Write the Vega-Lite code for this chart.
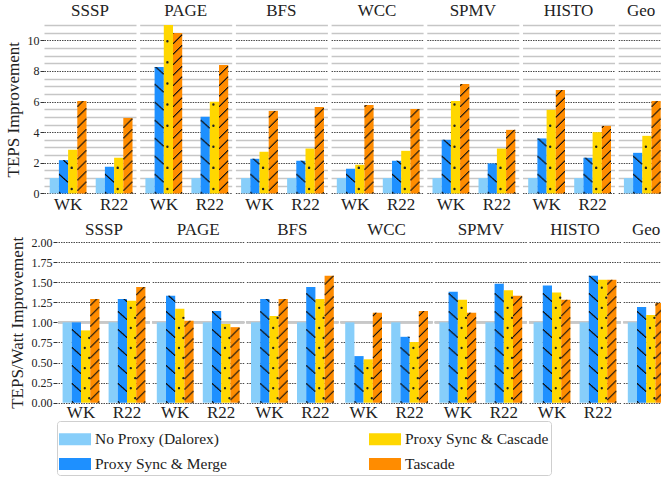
{
  "$schema": "https://vega.github.io/schema/vega-lite/v6.json",
  "background": "white",
  "padding": {"left": 4, "top": 2, "right": 0, "bottom": 0},
  "datasets": {
    "teps": [
      {"bench": "SSSP", "graph": "WK", "series": "No Proxy (Dalorex)", "value": 1.0},
      {"bench": "SSSP", "graph": "WK", "series": "Proxy Sync & Merge", "value": 2.17},
      {"bench": "SSSP", "graph": "WK", "series": "Proxy Sync & Cascade", "value": 2.85},
      {"bench": "SSSP", "graph": "WK", "series": "Tascade", "value": 6.04},
      {"bench": "SSSP", "graph": "R22", "series": "No Proxy (Dalorex)", "value": 1.0},
      {"bench": "SSSP", "graph": "R22", "series": "Proxy Sync & Merge", "value": 1.74},
      {"bench": "SSSP", "graph": "R22", "series": "Proxy Sync & Cascade", "value": 2.33},
      {"bench": "SSSP", "graph": "R22", "series": "Tascade", "value": 4.93},
      {"bench": "PAGE", "graph": "WK", "series": "No Proxy (Dalorex)", "value": 1.0},
      {"bench": "PAGE", "graph": "WK", "series": "Proxy Sync & Merge", "value": 8.26},
      {"bench": "PAGE", "graph": "WK", "series": "Proxy Sync & Cascade", "value": 11.0},
      {"bench": "PAGE", "graph": "WK", "series": "Tascade", "value": 10.48},
      {"bench": "PAGE", "graph": "R22", "series": "No Proxy (Dalorex)", "value": 1.0},
      {"bench": "PAGE", "graph": "R22", "series": "Proxy Sync & Merge", "value": 5.0},
      {"bench": "PAGE", "graph": "R22", "series": "Proxy Sync & Cascade", "value": 5.98},
      {"bench": "PAGE", "graph": "R22", "series": "Tascade", "value": 8.39},
      {"bench": "BFS", "graph": "WK", "series": "No Proxy (Dalorex)", "value": 1.0},
      {"bench": "BFS", "graph": "WK", "series": "Proxy Sync & Merge", "value": 2.26},
      {"bench": "BFS", "graph": "WK", "series": "Proxy Sync & Cascade", "value": 2.72},
      {"bench": "BFS", "graph": "WK", "series": "Tascade", "value": 5.39},
      {"bench": "BFS", "graph": "R22", "series": "No Proxy (Dalorex)", "value": 1.0},
      {"bench": "BFS", "graph": "R22", "series": "Proxy Sync & Merge", "value": 2.13},
      {"bench": "BFS", "graph": "R22", "series": "Proxy Sync & Cascade", "value": 2.93},
      {"bench": "BFS", "graph": "R22", "series": "Tascade", "value": 5.65},
      {"bench": "WCC", "graph": "WK", "series": "No Proxy (Dalorex)", "value": 1.0},
      {"bench": "WCC", "graph": "WK", "series": "Proxy Sync & Merge", "value": 1.61},
      {"bench": "WCC", "graph": "WK", "series": "Proxy Sync & Cascade", "value": 1.87},
      {"bench": "WCC", "graph": "WK", "series": "Tascade", "value": 5.78},
      {"bench": "WCC", "graph": "R22", "series": "No Proxy (Dalorex)", "value": 1.0},
      {"bench": "WCC", "graph": "R22", "series": "Proxy Sync & Merge", "value": 2.13},
      {"bench": "WCC", "graph": "R22", "series": "Proxy Sync & Cascade", "value": 2.78},
      {"bench": "WCC", "graph": "R22", "series": "Tascade", "value": 5.52},
      {"bench": "SPMV", "graph": "WK", "series": "No Proxy (Dalorex)", "value": 1.0},
      {"bench": "SPMV", "graph": "WK", "series": "Proxy Sync & Merge", "value": 3.5},
      {"bench": "SPMV", "graph": "WK", "series": "Proxy Sync & Cascade", "value": 6.04},
      {"bench": "SPMV", "graph": "WK", "series": "Tascade", "value": 7.15},
      {"bench": "SPMV", "graph": "R22", "series": "No Proxy (Dalorex)", "value": 1.0},
      {"bench": "SPMV", "graph": "R22", "series": "Proxy Sync & Merge", "value": 1.96},
      {"bench": "SPMV", "graph": "R22", "series": "Proxy Sync & Cascade", "value": 2.93},
      {"bench": "SPMV", "graph": "R22", "series": "Tascade", "value": 4.15},
      {"bench": "HISTO", "graph": "WK", "series": "No Proxy (Dalorex)", "value": 1.0},
      {"bench": "HISTO", "graph": "WK", "series": "Proxy Sync & Merge", "value": 3.59},
      {"bench": "HISTO", "graph": "WK", "series": "Proxy Sync & Cascade", "value": 5.46},
      {"bench": "HISTO", "graph": "WK", "series": "Tascade", "value": 6.76},
      {"bench": "HISTO", "graph": "R22", "series": "No Proxy (Dalorex)", "value": 1.0},
      {"bench": "HISTO", "graph": "R22", "series": "Proxy Sync & Merge", "value": 2.33},
      {"bench": "HISTO", "graph": "R22", "series": "Proxy Sync & Cascade", "value": 4.0},
      {"bench": "HISTO", "graph": "R22", "series": "Tascade", "value": 4.41},
      {"bench": "Geo", "graph": "", "series": "No Proxy (Dalorex)", "value": 1.0},
      {"bench": "Geo", "graph": "", "series": "Proxy Sync & Merge", "value": 2.65},
      {"bench": "Geo", "graph": "", "series": "Proxy Sync & Cascade", "value": 3.76},
      {"bench": "Geo", "graph": "", "series": "Tascade", "value": 6.04}
    ],
    "tepsw": [
      {"bench": "SSSP", "graph": "WK", "series": "No Proxy (Dalorex)", "value": 1.0},
      {"bench": "SSSP", "graph": "WK", "series": "Proxy Sync & Merge", "value": 1.0},
      {"bench": "SSSP", "graph": "WK", "series": "Proxy Sync & Cascade", "value": 0.9},
      {"bench": "SSSP", "graph": "WK", "series": "Tascade", "value": 1.29},
      {"bench": "SSSP", "graph": "R22", "series": "No Proxy (Dalorex)", "value": 1.0},
      {"bench": "SSSP", "graph": "R22", "series": "Proxy Sync & Merge", "value": 1.29},
      {"bench": "SSSP", "graph": "R22", "series": "Proxy Sync & Cascade", "value": 1.27},
      {"bench": "SSSP", "graph": "R22", "series": "Tascade", "value": 1.44},
      {"bench": "PAGE", "graph": "WK", "series": "No Proxy (Dalorex)", "value": 1.0},
      {"bench": "PAGE", "graph": "WK", "series": "Proxy Sync & Merge", "value": 1.33},
      {"bench": "PAGE", "graph": "WK", "series": "Proxy Sync & Cascade", "value": 1.17},
      {"bench": "PAGE", "graph": "WK", "series": "Tascade", "value": 1.02},
      {"bench": "PAGE", "graph": "R22", "series": "No Proxy (Dalorex)", "value": 1.0},
      {"bench": "PAGE", "graph": "R22", "series": "Proxy Sync & Merge", "value": 1.14},
      {"bench": "PAGE", "graph": "R22", "series": "Proxy Sync & Cascade", "value": 0.98},
      {"bench": "PAGE", "graph": "R22", "series": "Tascade", "value": 0.94},
      {"bench": "BFS", "graph": "WK", "series": "No Proxy (Dalorex)", "value": 1.0},
      {"bench": "BFS", "graph": "WK", "series": "Proxy Sync & Merge", "value": 1.29},
      {"bench": "BFS", "graph": "WK", "series": "Proxy Sync & Cascade", "value": 1.08},
      {"bench": "BFS", "graph": "WK", "series": "Tascade", "value": 1.29},
      {"bench": "BFS", "graph": "R22", "series": "No Proxy (Dalorex)", "value": 1.0},
      {"bench": "BFS", "graph": "R22", "series": "Proxy Sync & Merge", "value": 1.44},
      {"bench": "BFS", "graph": "R22", "series": "Proxy Sync & Cascade", "value": 1.29},
      {"bench": "BFS", "graph": "R22", "series": "Tascade", "value": 1.58},
      {"bench": "WCC", "graph": "WK", "series": "No Proxy (Dalorex)", "value": 1.0},
      {"bench": "WCC", "graph": "WK", "series": "Proxy Sync & Merge", "value": 0.58},
      {"bench": "WCC", "graph": "WK", "series": "Proxy Sync & Cascade", "value": 0.54},
      {"bench": "WCC", "graph": "WK", "series": "Tascade", "value": 1.12},
      {"bench": "WCC", "graph": "R22", "series": "No Proxy (Dalorex)", "value": 1.0},
      {"bench": "WCC", "graph": "R22", "series": "Proxy Sync & Merge", "value": 0.82},
      {"bench": "WCC", "graph": "R22", "series": "Proxy Sync & Cascade", "value": 0.755},
      {"bench": "WCC", "graph": "R22", "series": "Tascade", "value": 1.14},
      {"bench": "SPMV", "graph": "WK", "series": "No Proxy (Dalorex)", "value": 1.0},
      {"bench": "SPMV", "graph": "WK", "series": "Proxy Sync & Merge", "value": 1.38},
      {"bench": "SPMV", "graph": "WK", "series": "Proxy Sync & Cascade", "value": 1.28},
      {"bench": "SPMV", "graph": "WK", "series": "Tascade", "value": 1.12},
      {"bench": "SPMV", "graph": "R22", "series": "No Proxy (Dalorex)", "value": 1.0},
      {"bench": "SPMV", "graph": "R22", "series": "Proxy Sync & Merge", "value": 1.48},
      {"bench": "SPMV", "graph": "R22", "series": "Proxy Sync & Cascade", "value": 1.4},
      {"bench": "SPMV", "graph": "R22", "series": "Tascade", "value": 1.33},
      {"bench": "HISTO", "graph": "WK", "series": "No Proxy (Dalorex)", "value": 1.0},
      {"bench": "HISTO", "graph": "WK", "series": "Proxy Sync & Merge", "value": 1.46},
      {"bench": "HISTO", "graph": "WK", "series": "Proxy Sync & Cascade", "value": 1.37},
      {"bench": "HISTO", "graph": "WK", "series": "Tascade", "value": 1.28},
      {"bench": "HISTO", "graph": "R22", "series": "No Proxy (Dalorex)", "value": 1.0},
      {"bench": "HISTO", "graph": "R22", "series": "Proxy Sync & Merge", "value": 1.58},
      {"bench": "HISTO", "graph": "R22", "series": "Proxy Sync & Cascade", "value": 1.53},
      {"bench": "HISTO", "graph": "R22", "series": "Tascade", "value": 1.53},
      {"bench": "Geo", "graph": "", "series": "No Proxy (Dalorex)", "value": 1.0},
      {"bench": "Geo", "graph": "", "series": "Proxy Sync & Merge", "value": 1.19},
      {"bench": "Geo", "graph": "", "series": "Proxy Sync & Cascade", "value": 1.09},
      {"bench": "Geo", "graph": "", "series": "Tascade", "value": 1.24}
    ]
  },
  "config": {
    "view": {"stroke": null},
    "font": "Liberation Serif",
    "style": {"guide-label": {"font": "Liberation Serif"}, "guide-title": {"font": "Liberation Serif"}},
    "axis": {"labelFont": "Liberation Serif", "titleFont": "Liberation Serif", "titleFontWeight": "normal", "labelColor": "#222", "titleColor": "#222"},
    "axisX": {"labelFont": "Liberation Serif"},
    "axisY": {"labelFont": "Liberation Serif"},
    "legend": {"labelFont": "Liberation Serif"},
    "header": {"title": null, "labelFont": "Liberation Serif", "labelFontSize": 17, "labelColor": "#222", "labelPadding": 3}
  },
  "resolve": {"scale": {"color": "shared"}, "legend": {"color": "shared"}},
  "spacing": 8,
  "vconcat": [
    {"hconcat": [
    {
      "data": {"name": "teps"},
      "facet": {"column": {"field": "bench", "type": "nominal", "sort": ["SSSP", "PAGE", "BFS", "WCC", "SPMV", "HISTO", "Geo"], "header": {"title": null}}},
      "spacing": 3.7,
      "resolve": {"scale": {"x": "independent", "xOffset": "independent"}},
      "spec": {
        "width": {"step": 46, "for": "position"},
        "height": 168.4,
        "encoding": {
          "x": {"field": "graph", "type": "nominal", "sort": ["WK", "R22", ""], "title": null,
                "scale": {"type": "band", "paddingInner": 0.2, "paddingOuter": 0.1, "align": 0.62},
                "axis": {"labelFont": "Liberation Serif", "labelFontSize": 17, "labelAngle": 0, "ticks": false, "domain": false, "labelPadding": 3}},
          "xOffset": {"field": "series", "type": "nominal", "sort": ["No Proxy (Dalorex)", "Proxy Sync & Merge", "Proxy Sync & Cascade", "Tascade"], "scale": {"paddingInner": 0, "paddingOuter": 0}},
          "y": {"field": "value", "type": "quantitative", "title": "TEPS Improvement",
                "scale": {"domain": [0, 11], "nice": false},
                "axis": {"values": [0, 0.5, 1, 1.5, 2, 2.5, 3, 3.5, 4, 4.5, 5, 5.5, 6, 6.5, 7, 7.5, 8, 8.5, 9, 9.5, 10, 10.5, 11],
                         "labelExpr": "datum.value % 2 === 0 ? format(datum.value, 'd') : ''",
                         "gridColor": {"condition": {"test": "datum.value % 2 === 0", "value": "#4a4a4a"}, "value": "#c6c6c6"},
                         "gridDash": {"condition": {"test": "datum.value % 2 === 0", "value": [1.5, 1]}, "value": []},
                         "gridWidth": {"condition": {"test": "datum.value % 2 === 0", "value": 1}, "value": 1.3},
                         "tickColor": {"condition": {"test": "datum.value % 2 === 0", "value": "#333"}, "value": "transparent"},
                         "tickSize": 4, "domain": false, "labelFont": "Liberation Serif", "labelFontSize": 12, "labelPadding": 1,
                         "titleFont": "Liberation Serif", "titleFontSize": 17, "titlePadding": 5}}
        },
        "layer": [
          {"mark": {"type": "bar"},
           "encoding": {"color": {"field": "series", "type": "nominal",
             "scale": {"domain": ["No Proxy (Dalorex)", "Proxy Sync & Merge", "Proxy Sync & Cascade", "Tascade"], "range": ["#87CEFA", "#1E90FF", "#FFD700", "#FF8C00"]},
             "legend": {"title": null, "orient": "none", "legendX": 13, "legendY": 396, "columns": 2, "columnPadding": 142, "rowPadding": 0,
                        "symbolType": "M-1,-0.375H1V0.375H-1Z", "symbolSize": 1024, "symbolStrokeWidth": 0, "labelFont": "Liberation Serif",
                        "labelFontSize": 15.5, "labelLimit": 300, "labelOffset": 4, "labelColor": "#222", "strokeColor": "#cfcfcf", "cornerRadius": 3, "padding": 2}}}},
          {"transform": [{"filter": "datum.series === 'Proxy Sync & Cascade'"}],
           "mark": {"type": "rule", "xOffset": 22, "strokeDash": [0.1, 21], "strokeDashOffset": -4.4, "strokeCap": "round", "strokeWidth": 2.4, "color": "#222"},
           "encoding": {"x": {"field": "graph", "type": "nominal", "sort": ["WK", "R22", ""], "bandPosition": 0, "scale": {"type": "band"}}, "xOffset": null, "y": {"datum": 0, "type": "quantitative"}, "y2": {"field": "value"}}},
          {"transform": [{"filter": "datum.series === 'Proxy Sync & Merge'"}], "mark": {"type": "rule", "xOffset": 9.8, "strokeDash": [1.6, 16.4], "strokeDashOffset": 0, "strokeWidth": 1.1, "color": "#111"}, "encoding": {"x": {"field": "graph", "type": "nominal", "sort": ["WK", "R22", ""], "bandPosition": 0, "scale": {"type": "band"}}, "xOffset": null, "y": {"datum": 0, "type": "quantitative"}, "y2": {"field": "value"}}},
          {"transform": [{"filter": "datum.series === 'Proxy Sync & Merge'"}], "mark": {"type": "rule", "xOffset": 10.8, "strokeDash": [1.6, 16.4], "strokeDashOffset": 0.9, "strokeWidth": 1.1, "color": "#111"}, "encoding": {"x": {"field": "graph", "type": "nominal", "sort": ["WK", "R22", ""], "bandPosition": 0, "scale": {"type": "band"}}, "xOffset": null, "y": {"datum": 0, "type": "quantitative"}, "y2": {"field": "value"}}},
          {"transform": [{"filter": "datum.series === 'Proxy Sync & Merge'"}], "mark": {"type": "rule", "xOffset": 11.8, "strokeDash": [1.6, 16.4], "strokeDashOffset": 1.8, "strokeWidth": 1.1, "color": "#111"}, "encoding": {"x": {"field": "graph", "type": "nominal", "sort": ["WK", "R22", ""], "bandPosition": 0, "scale": {"type": "band"}}, "xOffset": null, "y": {"datum": 0, "type": "quantitative"}, "y2": {"field": "value"}}},
          {"transform": [{"filter": "datum.series === 'Proxy Sync & Merge'"}], "mark": {"type": "rule", "xOffset": 12.8, "strokeDash": [1.6, 16.4], "strokeDashOffset": 2.7, "strokeWidth": 1.1, "color": "#111"}, "encoding": {"x": {"field": "graph", "type": "nominal", "sort": ["WK", "R22", ""], "bandPosition": 0, "scale": {"type": "band"}}, "xOffset": null, "y": {"datum": 0, "type": "quantitative"}, "y2": {"field": "value"}}},
          {"transform": [{"filter": "datum.series === 'Proxy Sync & Merge'"}], "mark": {"type": "rule", "xOffset": 13.8, "strokeDash": [1.6, 16.4], "strokeDashOffset": 3.6, "strokeWidth": 1.1, "color": "#111"}, "encoding": {"x": {"field": "graph", "type": "nominal", "sort": ["WK", "R22", ""], "bandPosition": 0, "scale": {"type": "band"}}, "xOffset": null, "y": {"datum": 0, "type": "quantitative"}, "y2": {"field": "value"}}},
          {"transform": [{"filter": "datum.series === 'Proxy Sync & Merge'"}], "mark": {"type": "rule", "xOffset": 14.8, "strokeDash": [1.6, 16.4], "strokeDashOffset": 4.5, "strokeWidth": 1.1, "color": "#111"}, "encoding": {"x": {"field": "graph", "type": "nominal", "sort": ["WK", "R22", ""], "bandPosition": 0, "scale": {"type": "band"}}, "xOffset": null, "y": {"datum": 0, "type": "quantitative"}, "y2": {"field": "value"}}},
          {"transform": [{"filter": "datum.series === 'Proxy Sync & Merge'"}], "mark": {"type": "rule", "xOffset": 15.8, "strokeDash": [1.6, 16.4], "strokeDashOffset": 5.4, "strokeWidth": 1.1, "color": "#111"}, "encoding": {"x": {"field": "graph", "type": "nominal", "sort": ["WK", "R22", ""], "bandPosition": 0, "scale": {"type": "band"}}, "xOffset": null, "y": {"datum": 0, "type": "quantitative"}, "y2": {"field": "value"}}},
          {"transform": [{"filter": "datum.series === 'Proxy Sync & Merge'"}], "mark": {"type": "rule", "xOffset": 16.8, "strokeDash": [1.6, 16.4], "strokeDashOffset": 6.3, "strokeWidth": 1.1, "color": "#111"}, "encoding": {"x": {"field": "graph", "type": "nominal", "sort": ["WK", "R22", ""], "bandPosition": 0, "scale": {"type": "band"}}, "xOffset": null, "y": {"datum": 0, "type": "quantitative"}, "y2": {"field": "value"}}},
          {"transform": [{"filter": "datum.series === 'Proxy Sync & Merge'"}], "mark": {"type": "rule", "xOffset": 17.8, "strokeDash": [1.6, 16.4], "strokeDashOffset": 7.2, "strokeWidth": 1.1, "color": "#111"}, "encoding": {"x": {"field": "graph", "type": "nominal", "sort": ["WK", "R22", ""], "bandPosition": 0, "scale": {"type": "band"}}, "xOffset": null, "y": {"datum": 0, "type": "quantitative"}, "y2": {"field": "value"}}},
          {"transform": [{"filter": "datum.series === 'Tascade'"}], "mark": {"type": "rule", "xOffset": 28.2, "strokeDash": [1.5, 9], "strokeDashOffset": 8, "strokeWidth": 1.1, "color": "#111"}, "encoding": {"x": {"field": "graph", "type": "nominal", "sort": ["WK", "R22", ""], "bandPosition": 0, "scale": {"type": "band"}}, "xOffset": null, "y": {"datum": 0, "type": "quantitative"}, "y2": {"field": "value"}}},
          {"transform": [{"filter": "datum.series === 'Tascade'"}], "mark": {"type": "rule", "xOffset": 29.2, "strokeDash": [1.5, 9], "strokeDashOffset": 7, "strokeWidth": 1.1, "color": "#111"}, "encoding": {"x": {"field": "graph", "type": "nominal", "sort": ["WK", "R22", ""], "bandPosition": 0, "scale": {"type": "band"}}, "xOffset": null, "y": {"datum": 0, "type": "quantitative"}, "y2": {"field": "value"}}},
          {"transform": [{"filter": "datum.series === 'Tascade'"}], "mark": {"type": "rule", "xOffset": 30.2, "strokeDash": [1.5, 9], "strokeDashOffset": 6, "strokeWidth": 1.1, "color": "#111"}, "encoding": {"x": {"field": "graph", "type": "nominal", "sort": ["WK", "R22", ""], "bandPosition": 0, "scale": {"type": "band"}}, "xOffset": null, "y": {"datum": 0, "type": "quantitative"}, "y2": {"field": "value"}}},
          {"transform": [{"filter": "datum.series === 'Tascade'"}], "mark": {"type": "rule", "xOffset": 31.2, "strokeDash": [1.5, 9], "strokeDashOffset": 5, "strokeWidth": 1.1, "color": "#111"}, "encoding": {"x": {"field": "graph", "type": "nominal", "sort": ["WK", "R22", ""], "bandPosition": 0, "scale": {"type": "band"}}, "xOffset": null, "y": {"datum": 0, "type": "quantitative"}, "y2": {"field": "value"}}},
          {"transform": [{"filter": "datum.series === 'Tascade'"}], "mark": {"type": "rule", "xOffset": 32.2, "strokeDash": [1.5, 9], "strokeDashOffset": 4, "strokeWidth": 1.1, "color": "#111"}, "encoding": {"x": {"field": "graph", "type": "nominal", "sort": ["WK", "R22", ""], "bandPosition": 0, "scale": {"type": "band"}}, "xOffset": null, "y": {"datum": 0, "type": "quantitative"}, "y2": {"field": "value"}}},
          {"transform": [{"filter": "datum.series === 'Tascade'"}], "mark": {"type": "rule", "xOffset": 33.2, "strokeDash": [1.5, 9], "strokeDashOffset": 3, "strokeWidth": 1.1, "color": "#111"}, "encoding": {"x": {"field": "graph", "type": "nominal", "sort": ["WK", "R22", ""], "bandPosition": 0, "scale": {"type": "band"}}, "xOffset": null, "y": {"datum": 0, "type": "quantitative"}, "y2": {"field": "value"}}},
          {"transform": [{"filter": "datum.series === 'Tascade'"}], "mark": {"type": "rule", "xOffset": 34.2, "strokeDash": [1.5, 9], "strokeDashOffset": 2, "strokeWidth": 1.1, "color": "#111"}, "encoding": {"x": {"field": "graph", "type": "nominal", "sort": ["WK", "R22", ""], "bandPosition": 0, "scale": {"type": "band"}}, "xOffset": null, "y": {"datum": 0, "type": "quantitative"}, "y2": {"field": "value"}}},
          {"transform": [{"filter": "datum.series === 'Tascade'"}], "mark": {"type": "rule", "xOffset": 35.2, "strokeDash": [1.5, 9], "strokeDashOffset": 1, "strokeWidth": 1.1, "color": "#111"}, "encoding": {"x": {"field": "graph", "type": "nominal", "sort": ["WK", "R22", ""], "bandPosition": 0, "scale": {"type": "band"}}, "xOffset": null, "y": {"datum": 0, "type": "quantitative"}, "y2": {"field": "value"}}},
          {"transform": [{"filter": "datum.series === 'Tascade'"}], "mark": {"type": "rule", "xOffset": 36.2, "strokeDash": [1.5, 9], "strokeDashOffset": 0, "strokeWidth": 1.1, "color": "#111"}, "encoding": {"x": {"field": "graph", "type": "nominal", "sort": ["WK", "R22", ""], "bandPosition": 0, "scale": {"type": "band"}}, "xOffset": null, "y": {"datum": 0, "type": "quantitative"}, "y2": {"field": "value"}}}
        ]
      }
    }
    ]},
    {"spacing": -38, "hconcat": [
    {"data": {"values": []}, "mark": {"type": "point", "opacity": 0}, "width": 1, "height": 1},
    {
      "data": {"name": "tepsw"},
      "facet": {"column": {"field": "bench", "type": "nominal", "sort": ["SSSP", "PAGE", "BFS", "WCC", "SPMV", "HISTO", "Geo"], "header": {"title": null}}},
      "spacing": 0.2,
      "resolve": {"scale": {"x": "independent", "xOffset": "independent"}},
      "spec": {
        "width": {"step": 46, "for": "position"},
        "height": 160.7,
        "encoding": {
          "x": {"field": "graph", "type": "nominal", "sort": ["WK", "R22", ""], "title": null,
                "scale": {"type": "band", "paddingInner": 0.2, "paddingOuter": 0.1, "align": 0.5},
                "axis": {"labelFont": "Liberation Serif", "labelFontSize": 17, "labelAngle": 0, "ticks": false, "domain": false, "labelPadding": 2}},
          "xOffset": {"field": "series", "type": "nominal", "sort": ["No Proxy (Dalorex)", "Proxy Sync & Merge", "Proxy Sync & Cascade", "Tascade"], "scale": {"paddingInner": 0, "paddingOuter": 0}},
          "y": {"field": "value", "type": "quantitative", "title": "TEPS/Watt Improvement",
                "scale": {"domain": [0, 2], "nice": false},
                "axis": {"values": [0, 0.25, 0.5, 0.75, 1, 1.25, 1.5, 1.75, 2], "format": ".2f",
                         "gridColor": "#4a4a4a", "gridDash": [1.5, 1], "gridWidth": 1,
                         "tickColor": "#333", "tickSize": 4, "domain": false, "labelFont": "Liberation Serif", "labelFontSize": 12, "labelPadding": 1,
                         "titleFont": "Liberation Serif", "titleFontSize": 17, "titlePadding": 5}}
        },
        "layer": [
          {"mark": {"type": "rule", "color": "#c8c8c8", "strokeWidth": 1.6}, "encoding": {"x": null, "xOffset": null, "y": {"datum": 1, "type": "quantitative"}}},
          {"mark": {"type": "bar"},
           "encoding": {"color": {"field": "series", "type": "nominal",
             "scale": {"domain": ["No Proxy (Dalorex)", "Proxy Sync & Merge", "Proxy Sync & Cascade", "Tascade"], "range": ["#87CEFA", "#1E90FF", "#FFD700", "#FF8C00"]},
             "legend": {"title": null, "orient": "none", "legendX": 13, "legendY": 396, "columns": 2, "columnPadding": 142, "rowPadding": 0,
                        "symbolType": "M-1,-0.375H1V0.375H-1Z", "symbolSize": 1024, "symbolStrokeWidth": 0, "labelFont": "Liberation Serif",
                        "labelFontSize": 15.5, "labelLimit": 300, "labelOffset": 4, "labelColor": "#222", "strokeColor": "#cfcfcf", "cornerRadius": 3, "padding": 2}}}},
          {"transform": [{"filter": "datum.series === 'Proxy Sync & Cascade'"}],
           "mark": {"type": "rule", "xOffset": 22.2, "strokeDash": [0.1, 20], "strokeDashOffset": -14.4, "strokeCap": "round", "strokeWidth": 2.3, "color": "#222"},
           "encoding": {"x": {"field": "graph", "type": "nominal", "sort": ["WK", "R22", ""], "bandPosition": 0, "scale": {"type": "band"}}, "xOffset": null, "y": {"datum": 0, "type": "quantitative"}, "y2": {"field": "value"}}},
          {"transform": [{"filter": "datum.series === 'Proxy Sync & Cascade'"}],
           "mark": {"type": "rule", "xOffset": 26.6, "strokeDash": [0.1, 20], "strokeDashOffset": -4.4, "strokeCap": "round", "strokeWidth": 2.3, "color": "#222"},
           "encoding": {"x": {"field": "graph", "type": "nominal", "sort": ["WK", "R22", ""], "bandPosition": 0, "scale": {"type": "band"}}, "xOffset": null, "y": {"datum": 0, "type": "quantitative"}, "y2": {"field": "value"}}},
          {"transform": [{"filter": "datum.series === 'Proxy Sync & Merge'"}], "mark": {"type": "rule", "xOffset": 9.8, "strokeDash": [1.6, 16.4], "strokeDashOffset": 0, "strokeWidth": 1.1, "color": "#111"}, "encoding": {"x": {"field": "graph", "type": "nominal", "sort": ["WK", "R22", ""], "bandPosition": 0, "scale": {"type": "band"}}, "xOffset": null, "y": {"datum": 0, "type": "quantitative"}, "y2": {"field": "value"}}},
          {"transform": [{"filter": "datum.series === 'Proxy Sync & Merge'"}], "mark": {"type": "rule", "xOffset": 10.8, "strokeDash": [1.6, 16.4], "strokeDashOffset": 0.9, "strokeWidth": 1.1, "color": "#111"}, "encoding": {"x": {"field": "graph", "type": "nominal", "sort": ["WK", "R22", ""], "bandPosition": 0, "scale": {"type": "band"}}, "xOffset": null, "y": {"datum": 0, "type": "quantitative"}, "y2": {"field": "value"}}},
          {"transform": [{"filter": "datum.series === 'Proxy Sync & Merge'"}], "mark": {"type": "rule", "xOffset": 11.8, "strokeDash": [1.6, 16.4], "strokeDashOffset": 1.8, "strokeWidth": 1.1, "color": "#111"}, "encoding": {"x": {"field": "graph", "type": "nominal", "sort": ["WK", "R22", ""], "bandPosition": 0, "scale": {"type": "band"}}, "xOffset": null, "y": {"datum": 0, "type": "quantitative"}, "y2": {"field": "value"}}},
          {"transform": [{"filter": "datum.series === 'Proxy Sync & Merge'"}], "mark": {"type": "rule", "xOffset": 12.8, "strokeDash": [1.6, 16.4], "strokeDashOffset": 2.7, "strokeWidth": 1.1, "color": "#111"}, "encoding": {"x": {"field": "graph", "type": "nominal", "sort": ["WK", "R22", ""], "bandPosition": 0, "scale": {"type": "band"}}, "xOffset": null, "y": {"datum": 0, "type": "quantitative"}, "y2": {"field": "value"}}},
          {"transform": [{"filter": "datum.series === 'Proxy Sync & Merge'"}], "mark": {"type": "rule", "xOffset": 13.8, "strokeDash": [1.6, 16.4], "strokeDashOffset": 3.6, "strokeWidth": 1.1, "color": "#111"}, "encoding": {"x": {"field": "graph", "type": "nominal", "sort": ["WK", "R22", ""], "bandPosition": 0, "scale": {"type": "band"}}, "xOffset": null, "y": {"datum": 0, "type": "quantitative"}, "y2": {"field": "value"}}},
          {"transform": [{"filter": "datum.series === 'Proxy Sync & Merge'"}], "mark": {"type": "rule", "xOffset": 14.8, "strokeDash": [1.6, 16.4], "strokeDashOffset": 4.5, "strokeWidth": 1.1, "color": "#111"}, "encoding": {"x": {"field": "graph", "type": "nominal", "sort": ["WK", "R22", ""], "bandPosition": 0, "scale": {"type": "band"}}, "xOffset": null, "y": {"datum": 0, "type": "quantitative"}, "y2": {"field": "value"}}},
          {"transform": [{"filter": "datum.series === 'Proxy Sync & Merge'"}], "mark": {"type": "rule", "xOffset": 15.8, "strokeDash": [1.6, 16.4], "strokeDashOffset": 5.4, "strokeWidth": 1.1, "color": "#111"}, "encoding": {"x": {"field": "graph", "type": "nominal", "sort": ["WK", "R22", ""], "bandPosition": 0, "scale": {"type": "band"}}, "xOffset": null, "y": {"datum": 0, "type": "quantitative"}, "y2": {"field": "value"}}},
          {"transform": [{"filter": "datum.series === 'Proxy Sync & Merge'"}], "mark": {"type": "rule", "xOffset": 16.8, "strokeDash": [1.6, 16.4], "strokeDashOffset": 6.3, "strokeWidth": 1.1, "color": "#111"}, "encoding": {"x": {"field": "graph", "type": "nominal", "sort": ["WK", "R22", ""], "bandPosition": 0, "scale": {"type": "band"}}, "xOffset": null, "y": {"datum": 0, "type": "quantitative"}, "y2": {"field": "value"}}},
          {"transform": [{"filter": "datum.series === 'Proxy Sync & Merge'"}], "mark": {"type": "rule", "xOffset": 17.8, "strokeDash": [1.6, 16.4], "strokeDashOffset": 7.2, "strokeWidth": 1.1, "color": "#111"}, "encoding": {"x": {"field": "graph", "type": "nominal", "sort": ["WK", "R22", ""], "bandPosition": 0, "scale": {"type": "band"}}, "xOffset": null, "y": {"datum": 0, "type": "quantitative"}, "y2": {"field": "value"}}},
          {"transform": [{"filter": "datum.series === 'Tascade'"}], "mark": {"type": "rule", "xOffset": 28.2, "strokeDash": [1.5, 9], "strokeDashOffset": 8, "strokeWidth": 1.1, "color": "#111"}, "encoding": {"x": {"field": "graph", "type": "nominal", "sort": ["WK", "R22", ""], "bandPosition": 0, "scale": {"type": "band"}}, "xOffset": null, "y": {"datum": 0, "type": "quantitative"}, "y2": {"field": "value"}}},
          {"transform": [{"filter": "datum.series === 'Tascade'"}], "mark": {"type": "rule", "xOffset": 29.2, "strokeDash": [1.5, 9], "strokeDashOffset": 7, "strokeWidth": 1.1, "color": "#111"}, "encoding": {"x": {"field": "graph", "type": "nominal", "sort": ["WK", "R22", ""], "bandPosition": 0, "scale": {"type": "band"}}, "xOffset": null, "y": {"datum": 0, "type": "quantitative"}, "y2": {"field": "value"}}},
          {"transform": [{"filter": "datum.series === 'Tascade'"}], "mark": {"type": "rule", "xOffset": 30.2, "strokeDash": [1.5, 9], "strokeDashOffset": 6, "strokeWidth": 1.1, "color": "#111"}, "encoding": {"x": {"field": "graph", "type": "nominal", "sort": ["WK", "R22", ""], "bandPosition": 0, "scale": {"type": "band"}}, "xOffset": null, "y": {"datum": 0, "type": "quantitative"}, "y2": {"field": "value"}}},
          {"transform": [{"filter": "datum.series === 'Tascade'"}], "mark": {"type": "rule", "xOffset": 31.2, "strokeDash": [1.5, 9], "strokeDashOffset": 5, "strokeWidth": 1.1, "color": "#111"}, "encoding": {"x": {"field": "graph", "type": "nominal", "sort": ["WK", "R22", ""], "bandPosition": 0, "scale": {"type": "band"}}, "xOffset": null, "y": {"datum": 0, "type": "quantitative"}, "y2": {"field": "value"}}},
          {"transform": [{"filter": "datum.series === 'Tascade'"}], "mark": {"type": "rule", "xOffset": 32.2, "strokeDash": [1.5, 9], "strokeDashOffset": 4, "strokeWidth": 1.1, "color": "#111"}, "encoding": {"x": {"field": "graph", "type": "nominal", "sort": ["WK", "R22", ""], "bandPosition": 0, "scale": {"type": "band"}}, "xOffset": null, "y": {"datum": 0, "type": "quantitative"}, "y2": {"field": "value"}}},
          {"transform": [{"filter": "datum.series === 'Tascade'"}], "mark": {"type": "rule", "xOffset": 33.2, "strokeDash": [1.5, 9], "strokeDashOffset": 3, "strokeWidth": 1.1, "color": "#111"}, "encoding": {"x": {"field": "graph", "type": "nominal", "sort": ["WK", "R22", ""], "bandPosition": 0, "scale": {"type": "band"}}, "xOffset": null, "y": {"datum": 0, "type": "quantitative"}, "y2": {"field": "value"}}},
          {"transform": [{"filter": "datum.series === 'Tascade'"}], "mark": {"type": "rule", "xOffset": 34.2, "strokeDash": [1.5, 9], "strokeDashOffset": 2, "strokeWidth": 1.1, "color": "#111"}, "encoding": {"x": {"field": "graph", "type": "nominal", "sort": ["WK", "R22", ""], "bandPosition": 0, "scale": {"type": "band"}}, "xOffset": null, "y": {"datum": 0, "type": "quantitative"}, "y2": {"field": "value"}}},
          {"transform": [{"filter": "datum.series === 'Tascade'"}], "mark": {"type": "rule", "xOffset": 35.2, "strokeDash": [1.5, 9], "strokeDashOffset": 1, "strokeWidth": 1.1, "color": "#111"}, "encoding": {"x": {"field": "graph", "type": "nominal", "sort": ["WK", "R22", ""], "bandPosition": 0, "scale": {"type": "band"}}, "xOffset": null, "y": {"datum": 0, "type": "quantitative"}, "y2": {"field": "value"}}},
          {"transform": [{"filter": "datum.series === 'Tascade'"}], "mark": {"type": "rule", "xOffset": 36.2, "strokeDash": [1.5, 9], "strokeDashOffset": 0, "strokeWidth": 1.1, "color": "#111"}, "encoding": {"x": {"field": "graph", "type": "nominal", "sort": ["WK", "R22", ""], "bandPosition": 0, "scale": {"type": "band"}}, "xOffset": null, "y": {"datum": 0, "type": "quantitative"}, "y2": {"field": "value"}}}
        ]
      }
    }
    ]}
  ]
}
